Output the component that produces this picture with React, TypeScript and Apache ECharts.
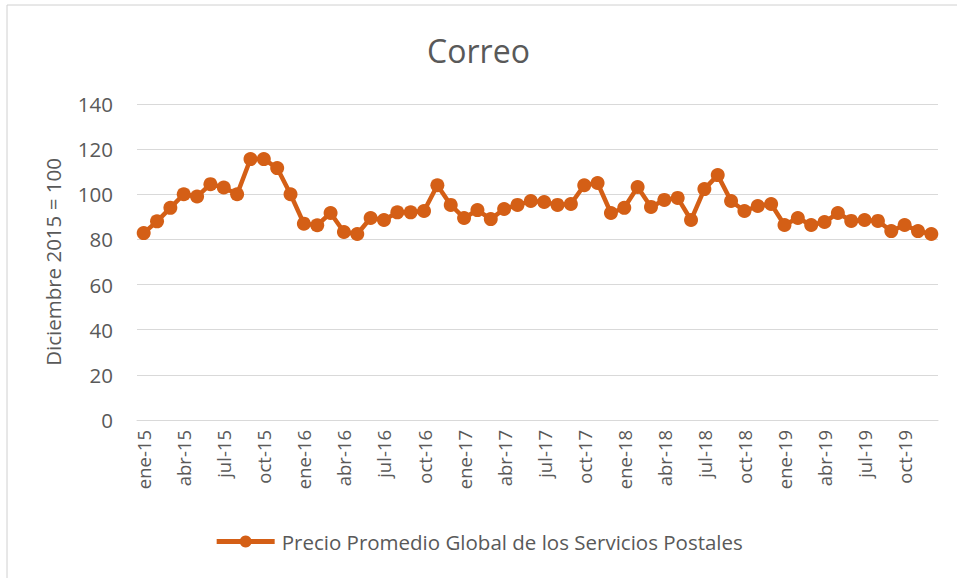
import React, { useEffect, useRef } from "react";
import * as echarts from "echarts";

const months = ["ene", "feb", "mar", "abr", "may", "jun", "jul", "ago", "sep", "oct", "nov", "dic"];
const years = ["15", "16", "17", "18", "19"];
const categories: string[] = years.flatMap((y) => months.map((m) => `${m}-${y}`));

const seriesName = "Precio Promedio Global de los Servicios Postales";
const values = [
  82.8, 88, 94, 100, 99, 104.5, 103, 100, 115.6, 115.6, 111.6, 100,
  87, 86.3, 91.7, 83.3, 82.4, 89.5, 88.6, 92, 92, 92.6, 104, 95.3,
  89.5, 93, 89, 93.5, 95.3, 97, 96.6, 95.3, 95.7, 104, 105, 91.7,
  94, 103.2, 94.4, 97.5, 98.4, 88.6, 102.3, 108.5, 97, 92.6, 94.8, 95.7,
  86.4, 89.5, 86.4, 87.7, 91.7, 88.2, 88.6, 88.2, 83.7, 86.4, 83.7, 82.4,
];

const yTicks = { min: 0, max: 140, interval: 20 };

export default function App() {
  const ref = useRef<HTMLDivElement>(null);
  useEffect(() => {
    if (!ref.current) return;
    const chart = echarts.init(ref.current, undefined, { renderer: "svg" });
    const font = "'Open Sans', 'Noto Sans', sans-serif";
    const color = "#D45F16";
    chart.setOption({
      animation: false,
      backgroundColor: "#ffffff",
      textStyle: { fontFamily: font },
      title: {
        text: "Correo",
        left: "center",
        top: 29,
        textStyle: { fontSize: 32, fontWeight: "normal", color: "#595959", fontFamily: font },
      },
      legend: {
        bottom: 21,
        left: "center",
        itemWidth: 58,
        itemHeight: 15,
        itemGap: 4,
        lineStyle: { width: 5 },
        textStyle: { fontSize: 20.5, color: "#595959", fontFamily: font, padding: [0, 0, 0, 2] },
        data: [seriesName],
      },
      grid: { left: 137, right: 19, top: 104, bottom: 158, containLabel: false },
      xAxis: {
        type: "category",
        data: categories,
        boundaryGap: true,
        axisLine: { show: true, lineStyle: { color: "#d9d9d9", width: 1 } },
        axisTick: { show: false },
        axisLabel: {
          interval: 2,
          rotate: 90,
          fontSize: 18.5,
          color: "#595959",
          margin: 10,
          fontFamily: font,
        },
      },
      yAxis: {
        type: "value",
        min: yTicks.min,
        max: yTicks.max,
        interval: yTicks.interval,
        name: "Diciembre 2015 = 100",
        nameLocation: "middle",
        nameGap: 74,
        nameRotate: 90,
        nameTextStyle: { fontSize: 20.5, color: "#595959", fontFamily: font },
        axisLine: { show: false },
        axisTick: { show: false },
        axisLabel: { fontSize: 20.5, color: "#595959", margin: 24, fontFamily: font },
        splitLine: { lineStyle: { color: "#d9d9d9", width: 1 } },
      },
      series: [
        {
          name: seriesName,
          type: "line",
          data: values,
          symbol: "circle",
          symbolSize: 14,
          showAllSymbol: true,
          lineStyle: { color, width: 4.5 },
          itemStyle: { color },
        },
      ],
      graphic: [
        { type: "line", shape: { x1: 7, y1: 5, x2: 957, y2: 5 }, style: { stroke: "#d0d0d0", lineWidth: 1 } },
        { type: "line", shape: { x1: 7, y1: 5, x2: 7, y2: 578 }, style: { stroke: "#d0d0d0", lineWidth: 1 } },
      ],
    });
    return () => chart.dispose();
  }, []);
  return (
    <div
      ref={ref}
      style={{ position: "fixed", left: 0, top: 0, width: 957, height: 578 }}
    />
  );
}
